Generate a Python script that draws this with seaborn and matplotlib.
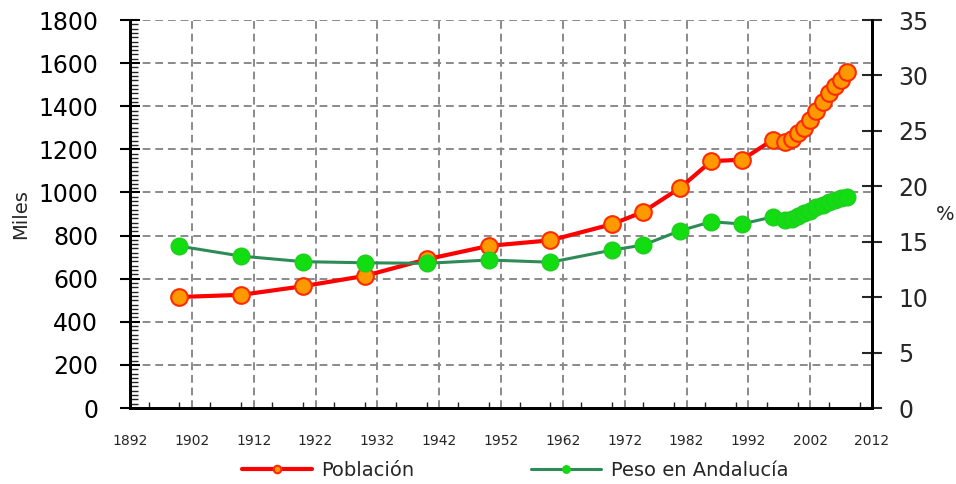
import pandas as pd
import matplotlib
matplotlib.use('Agg')
import matplotlib.pyplot as plt
from matplotlib.ticker import MultipleLocator
import seaborn as sns

# data
years = [1900, 1910, 1920, 1930, 1940, 1950, 1960, 1970, 1975, 1981, 1986, 1991,
         1996, 1998, 1999, 2000, 2001, 2002, 2003, 2004, 2005, 2006, 2007, 2008]
poblacion = [515, 525, 565, 613, 690, 752, 778, 853, 910, 1022, 1145, 1152,
             1245, 1235, 1250, 1275, 1300, 1335, 1380, 1420, 1460, 1495, 1520, 1558]
peso = [14.6, 13.7, 13.2, 13.1, 13.05, 13.35, 13.15, 14.25, 14.7, 16.0, 16.8, 16.6,
        17.25, 17.0, 17.05, 17.3, 17.55, 17.8, 18.1, 18.35, 18.55, 18.75, 18.9, 19.05]
xticks = list(range(1892, 2013, 10))

df = pd.DataFrame({'year': years, 'Población': poblacion, 'Peso en Andalucía': peso})

sns.set_style('white')
plt.rcParams['font.family'] = ['DejaVu Sans']

fig = plt.figure(figsize=(9.56, 4.84), dpi=100)
ax = fig.add_axes([130 / 956, 1 - 408 / 484, 742 / 956, 388 / 484])
ax2 = ax.twinx()

sns.lineplot(data=df, x='year', y='Población', ax=ax, color='#ff0000', lw=3,
             marker='o', markersize=12, markerfacecolor='#ff9900',
             markeredgecolor='#ff2a00', markeredgewidth=1.5, label='Población', legend=False)
sns.lineplot(data=df, x='year', y='Peso en Andalucía', ax=ax2, color='#2e8b57', lw=2.2,
             marker='o', markersize=12, markerfacecolor='#11dd11',
             markeredgecolor='#22cc22', markeredgewidth=1, label='Peso en Andalucía', legend=False)

ax.set_xlim(1892, 2012)
ax.set_ylim(0, 1800)
ax2.set_ylim(0, 35)
ax.set_xticks(xticks)
ax.set_xticklabels([str(y) for y in xticks], family=['Liberation Sans Narrow', 'DejaVu Sans'], fontsize=10)
ax.xaxis.set_minor_locator(MultipleLocator(5))
ax.yaxis.set_major_locator(MultipleLocator(200))
ax.yaxis.set_minor_locator(MultipleLocator(20))
ax2.yaxis.set_major_locator(MultipleLocator(5))

ax.grid(True, which='major', color='#8a8a8a', linestyle=(0, (4, 2.5)), lw=1.4)
ax.set_axisbelow(True)

ax.tick_params(axis='y', which='major', direction='inout', length=14, width=1.5,
               labelsize=17, pad=16, colors='black')
ax.tick_params(axis='y', which='minor', direction='in', length=6, width=1, left=True)
ax.tick_params(axis='x', which='major', direction='inout', length=10, width=1.5, pad=14)
ax.tick_params(axis='x', which='minor', direction='in', length=4, width=1, bottom=True)
ax2.tick_params(axis='y', which='major', direction='inout', length=14, width=1.5,
                labelsize=17, pad=12, right=True)

for a in (ax, ax2):
    a.spines['top'].set_visible(False)
    for s in ('left', 'right', 'bottom'):
        a.spines[s].set_color('black')
        a.spines[s].set_linewidth(2)

ax.set_xlabel('')
ax.set_ylabel('Miles', fontsize=14, labelpad=6)
ax2.set_ylabel('%', fontsize=14, rotation=0, labelpad=5, va='center', ha='left')

h1, l1 = ax.get_legend_handles_labels()
h2, l2 = ax2.get_legend_handles_labels()
fig.legend(h1 + h2, l1 + l2, loc='center', bbox_to_anchor=(515 / 956, 1 - 470 / 484),
           ncol=2, frameon=False, fontsize=14, markerscale=0.45, handlelength=3.6,
           columnspacing=6, handletextpad=0.5)

fig.savefig('out.png', dpi=100)
